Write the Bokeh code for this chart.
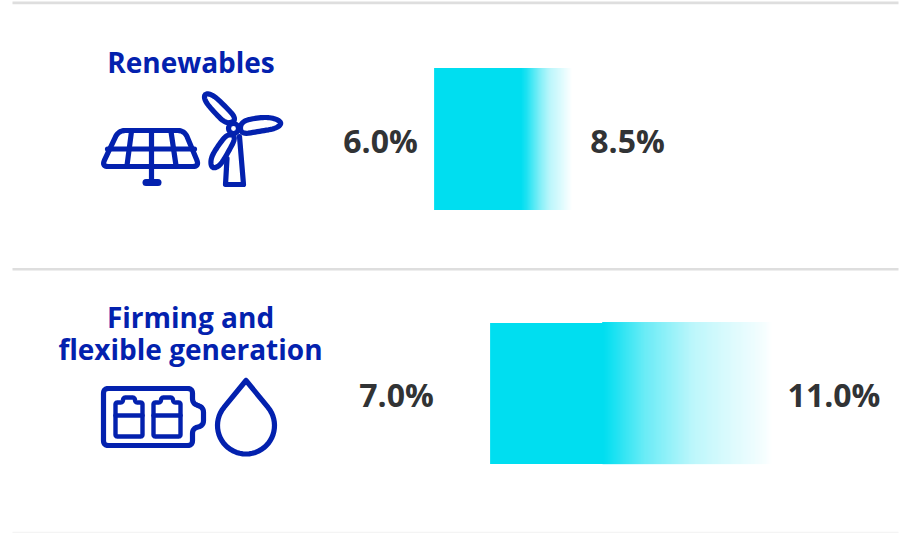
from bokeh.plotting import figure
from bokeh.models import Range1d
from bokeh.core.properties import value
from bokeh.embed import file_html
from bokeh.resources import INLINE
import math

# ---- data ----
categories = ["Renewables", "Firming and\nflexible generation"]
low_values = [6.0, 7.0]
high_values = [8.5, 11.0]
low_labels = ["6.0%", "7.0%"]
high_labels = ["8.5%", "11.0%"]

# ---- layout ----
W, H = 900, 533
CYAN = (0, 222, 240)
BLUE = "#0321ae"
DARK = "#313335"
GREY = "#dedede"
FONT = "Open Sans"

p = figure(width=W, height=H, x_range=Range1d(0, W), y_range=Range1d(H, 0),
           output_backend="svg", toolbar_location=None, min_border=0,
           background_fill_color="white", border_fill_color="white",
           outline_line_color=None, margin=(0, 0, 0, 0))
p.axis.visible = False
p.grid.visible = False

# separators
p.line([12, 898], [2.4, 2.4], line_color=GREY, line_width=2.6)
p.line([12, 898], [268.7, 268.7], line_color=GREY, line_width=2.6)
p.line([12, 898], [532, 532], line_color="#f4f4f4", line_width=1.5)

# per-row value scales: (low px, high px)
row_px = [(434, 572), (490, 772)]
row_y = [(68, 210), (323, 464)]
row_top2 = [68, 322]
solid_px = [87, 112]   # width of the fully solid part of each bar
# gradient stops: (fraction along bar, fraction of cyan remaining)
stops = [
    [(0.0, 1), (0.63, 1), (0.67, .88), (0.77, .48), (0.84, .26), (0.90, .17), (0.97, .05), (1.0, 0)],
    [(0.0, 1), (0.40, 1), (0.42, .95), (0.55, .58), (0.72, .26), (0.86, .13), (0.97, .04), (1.0, 0)],
]

def mix(t):
    return "#%02x%02x%02x" % tuple(round(255 + (c - 255) * t) for c in CYAN)

def interp(f, st):
    for (a, va), (b, vb) in zip(st, st[1:]):
        if f <= b:
            return va + (vb - va) * (f - a) / (b - a)
    return st[-1][1]

for i in range(2):
    name = f"row{i}"
    lo, hi = low_values[i], high_values[i]
    pl, ph = row_px[i]
    per_px = (hi - lo) / (ph - pl)
    p.extra_x_ranges[name] = Range1d(lo - pl * per_px + 0.4 * per_px, hi + (W - ph) * per_px + 0.4 * per_px)
    n = ph - pl
    s = solid_px[i]
    # one solid block, then narrow strips that overlap a little to hide seams
    p.quad(left=[lo], right=[lo + (s + 1) * per_px], top=[row_y[i][0] - .4], bottom=[row_y[i][1] - .4],
           fill_color=mix(1), line_color=None, x_range_name=name)
    lefts = [lo + k * per_px for k in range(s, n)]
    rights = [min(hi, lo + (k + 2) * per_px) for k in range(s, n)]
    colors = [mix(interp((k + .5) / n, stops[i])) for k in range(s, n)]
    tops = [row_top2[i] - .4] * (n - s)
    bots = [row_y[i][1] - .4] * (n - s)
    p.quad(left=lefts, right=rights, top=tops, bottom=bots, fill_color=colors,
           line_color=None, x_range_name=name)

# texts
def txt(x, y, s, color, size, align="center"):
    p.text([x], [y], text=[s], text_color=color, text_font=value(FONT),
           text_font_size=size, text_font_style="bold", text_align=align,
           text_baseline="middle")

txt(190.5, 61, categories[0], BLUE, "28px")
a, b = categories[1].split("\n")
txt(190, 316, a, BLUE, "28px")
txt(190, 348, b, BLUE, "28px")
txt(380, 139.5, low_labels[0], DARK, "32px")
txt(627, 139.5, high_labels[0], DARK, "32px")
txt(396, 393.5, low_labels[1], DARK, "32px")
txt(833.5, 393.5, high_labels[1], DARK, "32px")

# ---- icons (decoration, in screen pixels) ----
SW = 5.2

def stroke(xs, ys, w=SW):
    p.line(xs, ys, line_color=BLUE, line_width=w, line_cap="round", line_join="round")

def smooth(pts, rounds=3):
    for _ in range(rounds):
        out = []
        m = len(pts)
        for k in range(m):
            (x0, y0), (x1, y1) = pts[k], pts[(k + 1) % m]
            out.append((.75 * x0 + .25 * x1, .75 * y0 + .25 * y1))
            out.append((.25 * x0 + .75 * x1, .25 * y0 + .75 * y1))
        pts = out
    pts = pts + [pts[0]]
    return [q[0] for q in pts], [q[1] for q in pts]

def rounded(pts, r, w=SW):
    """closed polygon with rounded corners"""
    xs, ys = [], []
    m = len(pts)
    for k in range(m):
        x0, y0 = pts[k - 1]
        x1, y1 = pts[k]
        x2, y2 = pts[(k + 1) % m]
        d0 = math.hypot(x0 - x1, y0 - y1)
        d2 = math.hypot(x2 - x1, y2 - y1)
        r0, r2 = min(r, d0 / 2), min(r, d2 / 2)
        ax, ay = x1 + (x0 - x1) * r0 / d0, y1 + (y0 - y1) * r0 / d0
        bx, by = x1 + (x2 - x1) * r2 / d2, y1 + (y2 - y1) * r2 / d2
        for j in range(9):
            t = j / 8
            xs.append((1 - t) ** 2 * ax + 2 * t * (1 - t) * x1 + t * t * bx)
            ys.append((1 - t) ** 2 * ay + 2 * t * (1 - t) * y1 + t * t * by)
    xs.append(xs[0]); ys.append(ys[0])
    stroke(xs, ys, w)

# solar panel
rounded([(118, 130), (184, 130), (199, 166), (101, 166)], 7)
stroke([107, 194], [148.5, 148.5])
stroke([131, 126.5], [131, 165])
stroke([151, 151], [131, 180])
stroke([170.5, 175.5], [131, 165])
p.line([145.5, 157.5], [182, 182], line_color=BLUE, line_width=7, line_cap="round")

# wind turbine
for blade in (
    [(226, 124), (213, 111), (204, 100), (204, 93), (212, 94), (223, 104), (237, 119)],
    [(240, 121), (258, 117), (272, 117), (282, 122), (276, 128), (258, 131), (240, 134)],
    [(227, 133), (217, 146), (210, 158), (211, 168), (219, 166), (227, 153), (236, 136)],
):
    stroke(*smooth(blade))
p.circle([233], [128], radius=5, fill_color="white", line_color=BLUE, line_width=SW)
stroke([226.5, 225, 243, 239], [158, 184, 184, 136])

# battery
rounded([(103, 388), (192, 388), (192, 403), (203, 407), (203, 425), (192, 428), (192, 445), (103, 445)], 5)
for x0 in (115, 153):
    rounded([(x0, 436), (x0, 402), (x0 + 7, 402), (x0 + 8, 397), (x0 + 19, 397), (x0 + 20, 402),
             (x0 + 27, 402), (x0 + 27, 436)], 2, 4.4)
    stroke([x0, x0 + 27], [415, 415], 4.4)

# droplet
cx, cy, r, tip = 245.5, 425, 28.5, 380
d = cy - tip
th = math.acos(r / d)
drop_x, drop_y = [cx], [tip]
for k in range(41):
    a_ = -math.pi / 2 + th + (2 * math.pi - 2 * th) * k / 40
    drop_x.append(cx + r * math.cos(a_))
    drop_y.append(cy + r * math.sin(a_))
drop_x.append(cx); drop_y.append(tip)
stroke(drop_x, drop_y)

open("out.html", "w").write(file_html(p, INLINE))
